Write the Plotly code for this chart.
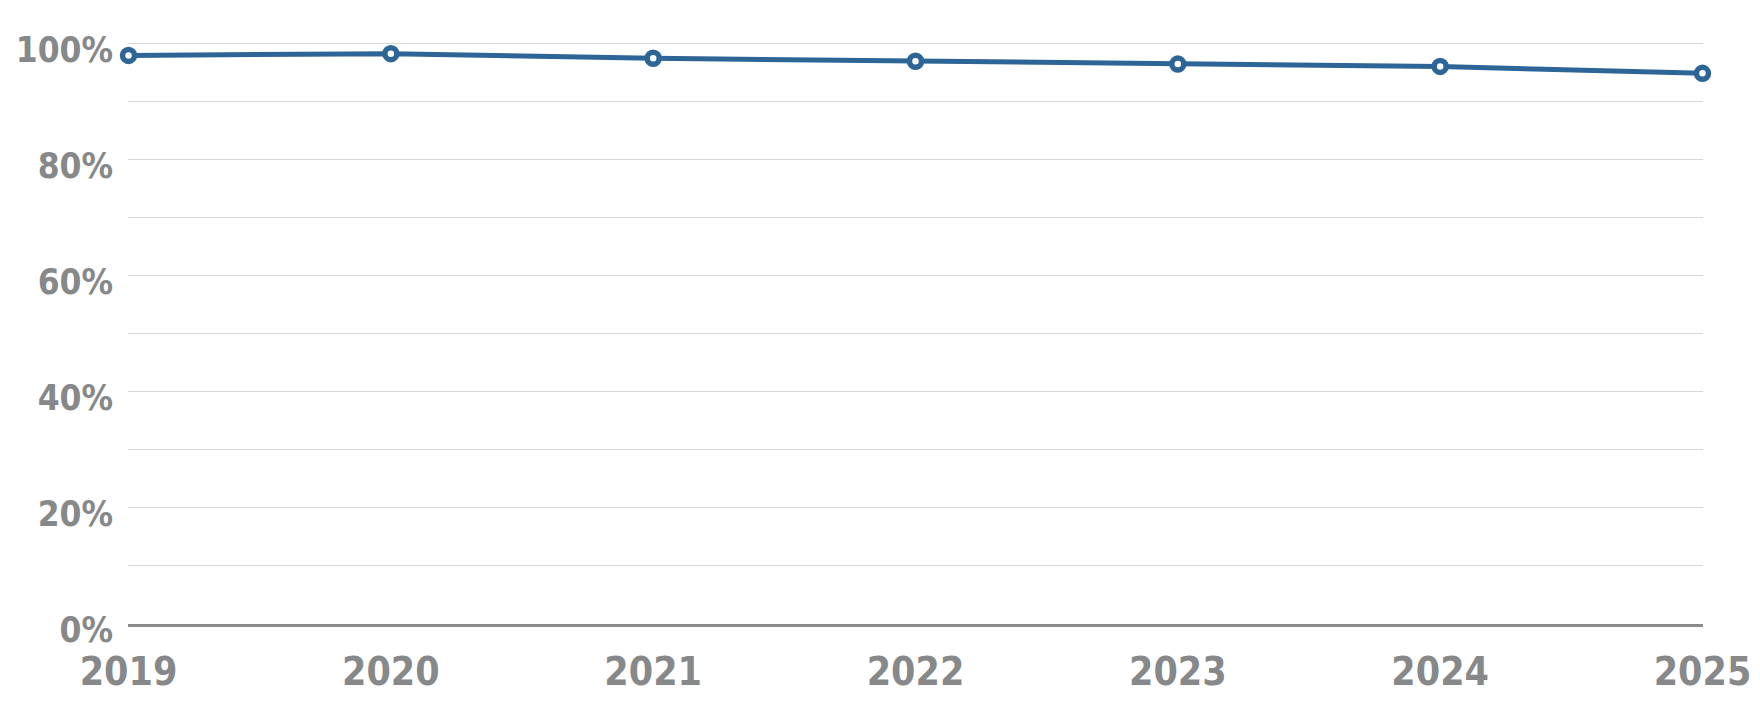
import plotly.graph_objects as go

# 数据
years = [2019, 2020, 2021, 2022, 2023, 2024, 2025]
share = [98.0, 98.3, 97.5, 97.0, 96.5, 96.1, 94.9]
y_ticks = [0, 20, 40, 60, 80, 100]
y_labels = ['0%', '20%', '40%', '60%', '80%', '100%']

line_color = '#2e6597'
text_color = '#868889'
font_name = 'DejaVu Sans Condensed, Liberation Sans Narrow, sans-serif'

fig = go.Figure()
fig.add_trace(go.Scatter(
    x=years, y=share,
    mode='lines+markers',
    line=dict(color=line_color, width=5),
    marker=dict(size=12, color='white', line=dict(color=line_color, width=5.5)),
    cliponaxis=False,
    showlegend=False,
))

# 页面本身有 8px 边距，所以图整体小 8px
fig.update_layout(
    width=1752, height=700,
    margin=dict(l=120, r=57, t=30, b=84, autoexpand=False),
    paper_bgcolor='white',
    plot_bgcolor='white',
    font=dict(family=font_name, color=text_color, size=36),
)

fig.update_xaxes(
    range=[2019 - 0.002, 2025 + 0.002],
    tickvals=years,
    ticktext=[str(y) for y in years],
    showgrid=False,
    showline=True, linecolor='#8c8c8c', linewidth=3,
    ticks='', zeroline=False, automargin=False,
    tickfont=dict(family=font_name, size=39, color=text_color, weight='bold'),
    ticklabelstandoff=11,
)

fig.update_yaxes(
    range=[-0.05, 101],
    tickvals=y_ticks,
    ticktext=y_labels,
    showgrid=True, gridcolor='#d9d9d9', gridwidth=1.2,
    minor=dict(dtick=10, showgrid=True, gridcolor='#d9d9d9', gridwidth=1.2),
    zeroline=False, showline=False, ticks='', automargin=False,
    tickfont=dict(family=font_name, size=35, color=text_color, weight='bold'),
    ticklabelstandoff=14,
    ticklabelshift=6,
)

fig.write_html('out.html')
